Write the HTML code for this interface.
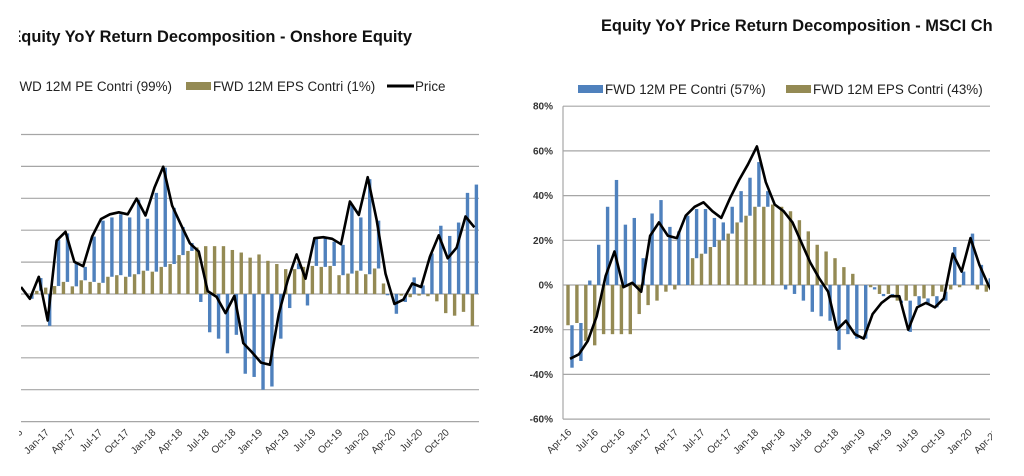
<!DOCTYPE html>
<html><head><meta charset="utf-8"><style>
html,body{margin:0;padding:0;background:#fff;width:1024px;height:476px;overflow:hidden}
svg{display:block;font-family:"Liberation Sans",sans-serif}
</style></head><body>
<svg id="c" width="1024" height="476" viewBox="0 0 1024 476">
<defs>
<clipPath id="leftPanel"><rect x="19" y="0" width="500" height="476"/></clipPath>
<clipPath id="rightPanel"><rect x="520" y="0" width="472" height="476"/></clipPath>
</defs>
<g clip-path="url(#leftPanel)">
<text x="412" y="42" text-anchor="end" font-size="16.4" font-weight="bold" fill="#111">Equity YoY Return Decomposition - Onshore Equity</text>
<g>
<text x="172" y="91" text-anchor="end" font-size="13.4" fill="#222">FWD 12M PE Contri (99%)</text>
<rect x="186" y="82" width="25" height="8" fill="#948a54"/>
<text x="213" y="91" font-size="13.4" fill="#222">FWD 12M EPS Contri (1%)</text>
<line x1="387" y1="86" x2="414" y2="86" stroke="#000" stroke-width="3"/>
<text x="415" y="91" font-size="13.4" fill="#222">Price</text>
</g>
<g id="L"></g>
</g>
<g clip-path="url(#rightPanel)">
<text x="601" y="31" font-size="16.4" font-weight="bold" fill="#111">Equity YoY Price Return Decomposition - MSCI China</text>
<g>
<rect x="578" y="85" width="25" height="8" fill="#4f81bd"/>
<text x="605" y="94" font-size="13.4" fill="#222">FWD 12M PE Contri (57%)</text>
<rect x="786" y="85" width="25" height="8" fill="#948a54"/>
<text x="813" y="94" font-size="13.4" fill="#222">FWD 12M EPS Contri (43%)</text>
</g>
<g id="R"></g>
</g>
</svg>
<script>
// Left chart data (Oct-16 .. Jan-21 approx), units: percent
const leftPE = [0,-1.5,4,-10,14.5,15.2,7.2,4.2,14.2,19.5,18.6,19.1,18.6,23.4,16.3,24.7,31.1,17.6,8.8,2.5,-2.5,-12,-14,-18.6,-12.8,-25,-26,-30,-29,-14,-4.4,1.8,-3.6,8.7,9,7.6,9.5,21.6,16.7,29.8,15,-0.4,-6.2,-2,5.2,2.7,12.7,21.4,18.2,22.4,31.7,34.3];
const leftEPS = [0,0,1,2,2.5,3.8,2.4,4.3,3.8,3.5,5.4,5.9,5.4,6.2,7.3,7,8.5,9.4,12.2,13.5,14.6,15,15,15,13.8,13,11.4,12.4,10.4,9.4,7.8,7.8,8.5,8.8,8.5,8.8,5.9,6.4,7.3,6.2,8,3.3,0,-0.5,-1,-0.5,-0.7,-2.3,-6,-6.8,-5.6,-10];
const leftPrice = [2.2,-1.5,5.4,-8.3,16.7,19.5,10.1,8.7,18,23.5,25,25.6,25,29.9,24.6,33.3,39.9,27.7,21.7,15.9,13.3,0.9,-0.9,-6,-0.6,-15.4,-18.3,-21.5,-22.2,-6.2,4.3,12.4,4.8,17.5,17.8,17.3,15.6,29,24.8,36.6,23.3,6.4,-3.1,-1.8,3.3,2.2,11.7,18.4,11.2,14.5,24.3,20.9];
const leftTicks = [50,40,30,20,10,0,-10,-20,-30,-40];
const leftLabels = ["Oct-16","Jan-17","Apr-17","Jul-17","Oct-17","Jan-18","Apr-18","Jul-18","Oct-18","Jan-19","Apr-19","Jul-19","Oct-19","Jan-20","Apr-20","Jul-20","Oct-20"];
// Right chart data (Apr-16 .. Apr-20)
const rightPE = [-19,-17,2,18,35,47,27,30,12,32,38,26,24,31,22,20,13,8,12,14,17,20,7,0,-2,-4,-7,-12,-14,-16,-29,-22,-24,-24,-1,-1,-1,-1,-14,-4,-3,-5,-4,17,6,23,9,3,0];
const rightEPS = [-18,-17,-25,-27,-22,-22,-22,-22,-13,-9,-7,-3,-2,0,12,14,17,20,23,28,31,35,35,36,35,33,29,24,18,15,12,8,5,0,-1,-4,-4,-7,-7,-5,-6,-5,-3,-2,-1,0,-2,-3,-4];
const rightPrice = [-33,-31,-25,-14,4,15,-1,1,-3,22,28,22,21,31,35,37,33,30,39,47,54,62,46,36,33,28,19,10,3,-3,-20,-16,-22,-24,-13,-8,-5,-5,-20,-10,-8,-10,-6,14,6,21,9,0,-7];
const rightTicks = [80,60,40,20,0,-20,-40,-60];
const rightLabels = ["Apr-16","Jul-16","Oct-16","Jan-17","Apr-17","Jul-17","Oct-17","Jan-18","Apr-18","Jul-18","Oct-18","Jan-19","Apr-19","Jul-19","Oct-19","Jan-20","Apr-20"];

const NS="http://www.w3.org/2000/svg";
function mk(parent,tag,attrs){const e=document.createElementNS(NS,tag);for(const k in attrs)e.setAttribute(k,attrs[k]);parent.appendChild(e);return e;}

function drawChart(g, cfg){
  const {pe,eps,price,ticks,labels,x0,step,zeroY,pxPer,gx1,gx2,clipX,pre,showY} = cfg;
  const y = v => zeroY - v*pxPer;
  const x = i => x0 + i*step;
  const cp = mk(g,'clipPath',{id:pre+'clip'});
  mk(cp,'rect',{x:gx1,y:0,width:clipX-gx1,height:476});
  ticks.forEach(t=>{
    const l=mk(g,'line',{x1:gx1,x2:gx2,y1:y(t),y2:y(t),stroke:'#a6a6a6','stroke-width':1.2});
    
    
    if(showY){
      const tx=mk(g,'text',{x:gx1-10,y:y(t)+3.5,'text-anchor':'end','font-size':10,'font-weight':'bold',fill:'#333'});
      tx.textContent=t+'%';
      
      
    }
  });
  if(showY){
    const ax=mk(g,'line',{x1:gx1,x2:gx1,y1:y(ticks[0]),y2:y(ticks[ticks.length-1]),stroke:'#a6a6a6','stroke-width':1.2});
    
    
  }
  const bars=mk(g,'g',{'clip-path':'url(#'+pre+'clip)'});
  const bw=3.4;
  pe.forEach((p,i)=>{
    const e=eps[i];
    let e0=0,e1=e,p0,p1;
    if((p>=0&&e>=0)||(p<0&&e<0)){p0=e;p1=e+p;} else {p0=0;p1=p;}
    if(e!==0){
      const r=mk(bars,'rect',{x:x(i)-bw-0.3,y:Math.min(y(e0),y(e1)),width:bw,height:Math.abs(y(e1)-y(e0)),fill:'#948a54'});
      
      
    }
    if(p!==0){
      const r=mk(bars,'rect',{x:x(i)+0.3,y:Math.min(y(p0),y(p1)),width:bw,height:Math.abs(y(p1)-y(p0)),fill:'#4f81bd'});
      
      
    }
  });
  const pts=price.map((v,i)=>x(i).toFixed(1)+','+y(v).toFixed(1)).join(' ');
  const pl=mk(bars,'polyline',{points:pts,fill:'none',stroke:'#000','stroke-width':2.6,'stroke-linejoin':'round'});
  
  
  labels.forEach((lb,k)=>{
    const i=k*3; const lx=x(i)+2, ly=cfg.labY;
    const t=mk(g,'text',{x:lx,y:ly,'text-anchor':'end','font-size':10,fill:'#333',transform:'rotate(-45 '+lx+' '+ly+')'});
    t.textContent=lb;
    
    
  });
}
drawChart(document.getElementById('L'),{pe:leftPE,eps:leftEPS,price:leftPrice,ticks:leftTicks,labels:leftLabels,
  x0:21,step:8.89,zeroY:294,pxPer:3.19,gx1:21,gx2:479,clipX:479,pre:'left-',showY:false,labY:433});
drawChart(document.getElementById('R'),{pe:rightPE,eps:rightEPS,price:rightPrice,ticks:rightTicks,labels:rightLabels,
  x0:570,step:8.9,zeroY:285,pxPer:2.235,gx1:563,gx2:990,clipX:990,pre:'right-',showY:true,labY:433});
</script>
</body></html>
